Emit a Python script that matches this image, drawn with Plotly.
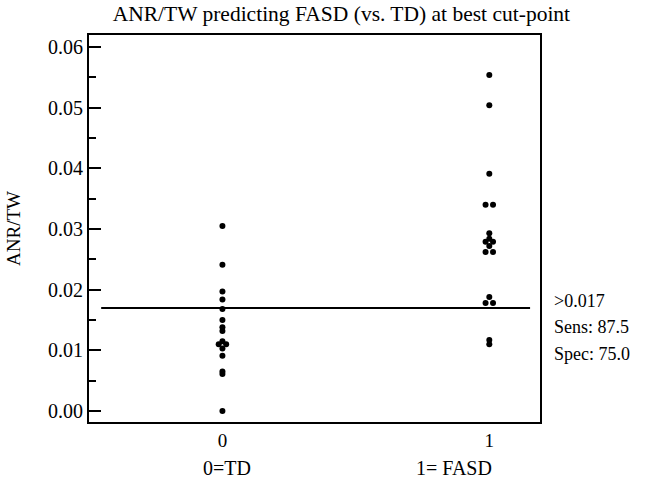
import numpy as np
import plotly.graph_objects as go
from collections import Counter

# ---- data ----
categories = [0, 1]
category_titles = ["0=TD", "1= FASD"]
td_values = [0.0305, 0.0241, 0.0197, 0.0184, 0.0168, 0.0150, 0.0138, 0.0132,
             0.0115, 0.0110, 0.0110, 0.0103, 0.0091, 0.0065, 0.0061, 0.0000]
fasd_values = [0.0554, 0.0504, 0.0391, 0.0340, 0.0340, 0.0293, 0.0284, 0.0279,
               0.0279, 0.0272, 0.0262, 0.0262, 0.0188, 0.0178, 0.0178, 0.0117, 0.0110]
cut_point = 0.017
stats_text = [">0.017", "Sens: 87.5", "Spec: 75.0"]
y_ticks = [0.00, 0.01, 0.02, 0.03, 0.04, 0.05, 0.06]

FONT = "Liberation Serif, Times New Roman, serif"


def spread(vals, center, step=0.028):
    """Equal values are spread symmetrically around the category centre."""
    counts = Counter(vals)
    seen = Counter()
    xs = []
    for v in vals:
        n = counts[v]
        j = seen[v]
        seen[v] += 1
        xs.append(center + (j - (n - 1) / 2) * step)
    return xs


fig = go.Figure()
for cat, vals in zip(categories, [td_values, fasd_values]):
    fig.add_trace(go.Scatter(
        x=spread(vals, cat), y=vals, mode="markers",
        marker=dict(color="black", size=6),
        showlegend=False, hoverinfo="y",
    ))

fig.add_shape(type="line", xref="paper", yref="y", x0=0.027, x1=0.978,
              y0=cut_point, y1=cut_point, line=dict(color="black", width=2))

# statistics text to the right of the plot, one line each
for i, t in enumerate(stats_text):
    fig.add_annotation(text=t, xref="paper", yref="paper",
                       x=1.027, y=0.3127 - i * 0.0685,
                       xanchor="left", yanchor="middle", align="left",
                       showarrow=False,
                       font=dict(family=FONT, size=18, color="black"))

# category descriptions under the tick labels
title_pos = [0.306, 0.81]
for p, t in zip(title_pos, category_titles):
    fig.add_annotation(text=t, xref="paper", yref="paper", x=p, y=-0.119,
                       xanchor="center", yanchor="middle", showarrow=False,
                       font=dict(family=FONT, size=20, color="black"))

fig.update_layout(
    width=649, height=485,
    margin=dict(l=89, r=109, t=35, b=63),
    paper_bgcolor="white", plot_bgcolor="white",
    title=dict(text="ANR/TW predicting FASD (vs. TD) at best cut-point",
               x=0.526, xanchor="center", y=0.972, yanchor="middle",
               font=dict(family=FONT, size=21.5, color="black")),
    font=dict(family=FONT, color="black"),
    xaxis=dict(range=[-0.5, 1.19], tickvals=categories,
               ticktext=[str(c) for c in categories],
               showgrid=False, zeroline=False, showline=True, mirror=True,
               linecolor="black", linewidth=2, ticks="",
               tickfont=dict(family=FONT, size=19, color="black")),
    yaxis=dict(range=[-0.00181, 0.06198], tickvals=y_ticks,
               ticktext=[f"{v:.2f}" for v in y_ticks],
               showgrid=False, zeroline=False, showline=True, mirror=True,
               linecolor="black", linewidth=2,
               ticks="inside", ticklen=12, tickwidth=2, tickcolor="black",
               minor=dict(dtick=0.005, tick0=0, ticks="inside", ticklen=7,
                          tickwidth=2, tickcolor="black", showgrid=False),
               tickfont=dict(family=FONT, size=20, color="black"),
               title=dict(text="ANR/TW", standoff=22,
                          font=dict(family=FONT, size=19, color="black"))),
)

fig.write_html("out.html")
